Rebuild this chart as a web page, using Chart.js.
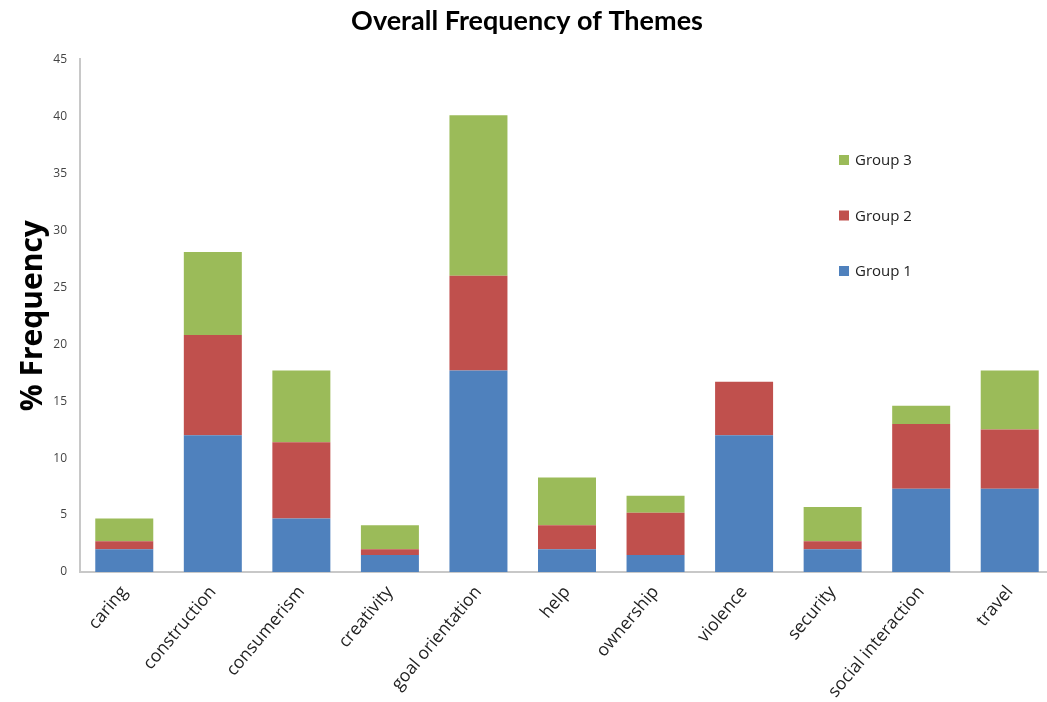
<!DOCTYPE html>
<html>
<head>
<meta charset="utf-8">
<script src="https://cdn.jsdelivr.net/npm/chart.js@4/dist/chart.umd.min.js"></script>
<style>
  html, body { margin: 0; padding: 0; background: #fff; overflow: hidden; }
  #wrap { width: 1054px; height: 702px; }
</style>
</head>
<body>
<div id="wrap"><canvas id="chart" width="1054" height="702"></canvas></div>
<script>
const categories = ['caring', 'construction', 'consumerism', 'creativity', 'goal orientation',
  'help', 'ownership', 'violence', 'security', 'social interaction', 'travel'];
const group1 = [2.0, 12.0, 4.7, 1.5, 17.7, 2.0, 1.5, 12.0, 2.0, 7.3, 7.3];
const group2 = [0.7, 8.8, 6.7, 0.5, 8.3, 2.1, 3.7, 4.7, 0.7, 5.7, 5.2];
const group3 = [2.0, 7.3, 6.3, 2.1, 14.1, 4.2, 1.5, 0, 3.0, 1.6, 5.2];
const yTicks = [0, 5, 10, 15, 20, 25, 30, 35, 40, 45];

// legend drawn by hand: vertical list inside the plot, Group 3 on top
const sideLegend = {
  id: 'sideLegend',
  afterDraw(chart) {
    const ctx = chart.ctx;
    const items = chart.data.datasets.slice().reverse();
    ctx.save();
    ctx.font = '15px "Open Sans", sans-serif';
    ctx.textBaseline = 'middle';
    items.forEach((ds, i) => {
      const y = 160 + i * 55.5;
      ctx.fillStyle = ds.backgroundColor;
      ctx.fillRect(839, y - 5, 10, 10);
      ctx.fillStyle = '#222';
      ctx.fillText(ds.label, 855, y + 1);
    });
    ctx.restore();
  }
};

new Chart(document.getElementById('chart').getContext('2d'), {
  type: 'bar',
  data: {
    labels: categories,
    datasets: [
      { label: 'Group 1', data: group1, backgroundColor: '#4F81BD' },
      { label: 'Group 2', data: group2, backgroundColor: '#C0504D' },
      { label: 'Group 3', data: group3, backgroundColor: '#9BBB59' }
    ]
  },
  options: {
    responsive: false,
    animation: false,
    layout: { padding: { left: 0, right: 0, top: 0, bottom: 0 } },
    datasets: { bar: { categoryPercentage: 1, barPercentage: 0.655 } },
    plugins: {
      legend: { display: false },
      tooltip: { enabled: false },
      title: {
        display: true,
        text: 'Overall Frequency of Themes',
        color: '#000',
        font: { family: 'Lato', size: 27, weight: 'bold' },
        padding: { top: 5, bottom: 22 }
      }
    },
    scales: {
      x: {
        stacked: true,
        grid: { display: false },
        border: { color: '#c8c8c8', width: 2 },
        afterFit(scale) { scale.paddingLeft = 0; scale.paddingRight = 0; scale.height = 130; },
        ticks: {
          color: '#222',
          padding: 2,
          font: { family: '"Open Sans", sans-serif', size: 17.5 },
          minRotation: 50, maxRotation: 50, autoSkip: false
        }
      },
      y: {
        stacked: true,
        min: 0, max: 45,
        afterBuildTicks(axis) { axis.ticks = yTicks.map(v => ({ value: v })); },
        afterFit(scale) { scale.width = 80; },
        grid: { display: false, drawTicks: false },
        border: { color: '#c8c8c8', width: 2 },
        ticks: { color: '#444', padding: 13, font: { family: '"Open Sans", sans-serif', size: 12 } },
        title: {
          display: true,
          text: '% Frequency',
          color: '#000',
          font: { family: '"Open Sans", sans-serif', size: 30, weight: 'bold' },
          padding: { top: 15, bottom: 0 }
        }
      }
    }
  },
  plugins: [sideLegend]
});
</script>
</body>
</html>
